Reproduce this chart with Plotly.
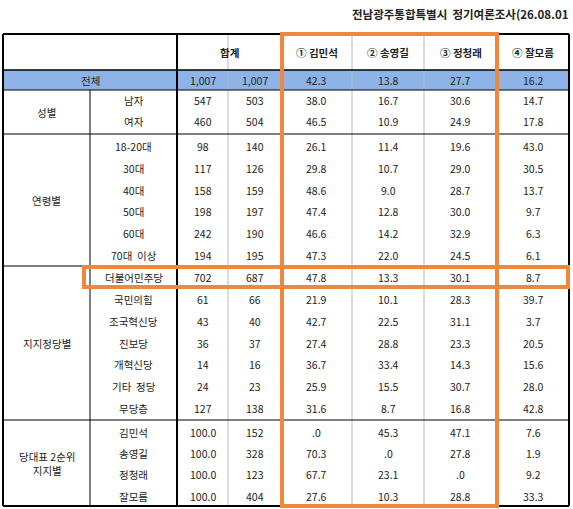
import plotly.graph_objects as go

title = "전남광주통합특별시  정기여론조사(26.08.01"
columns = ["① 김민석", "② 송영길", "③ 정청래", "④ 잘모름"]
groups = ["성별", "연령별", "지지정당별", "당대표 2순위<br>지지별"]
group_sizes = [2, 6, 7, 4]
subgroups = ["남자", "여자", "18-20대", "30대", "40대", "50대", "60대", "70대  이상",
             "더불어민주당", "국민의힘", "조국혁신당", "진보당", "개혁신당", "기타  정당", "무당층",
             "김민석", "송영길", "정청래", "잘모름"]
n_a = ["1,007", "547", "460", "98", "117", "158", "198", "242", "194",
       "702", "61", "43", "36", "14", "24", "127", "100.0", "100.0", "100.0", "100.0"]
n_b = ["1,007", "503", "504", "140", "126", "159", "197", "190", "195",
       "687", "66", "40", "37", "16", "23", "138", "152", "328", "123", "404"]
kim = ["42.3", "38.0", "46.5", "26.1", "29.8", "48.6", "47.4", "46.6", "47.3",
       "47.8", "21.9", "42.7", "27.4", "36.7", "25.9", "31.6", ".0", "70.3", "67.7", "27.6"]
song = ["13.8", "16.7", "10.9", "11.4", "10.7", "9.0", "12.8", "14.2", "22.0",
        "13.3", "10.1", "22.5", "28.8", "33.4", "15.5", "8.7", "45.3", ".0", "23.1", "10.3"]
jung = ["27.7", "30.6", "24.9", "19.6", "29.0", "28.7", "30.0", "32.9", "24.5",
        "30.1", "28.3", "31.1", "23.3", "14.3", "30.7", "16.8", "47.1", "27.8", ".0", "28.8"]
dunno = ["16.2", "14.7", "17.8", "43.0", "30.5", "13.7", "9.7", "6.3", "6.1",
         "8.7", "39.7", "3.7", "20.5", "15.6", "28.0", "42.8", "7.6", "1.9", "9.2", "33.3"]

# layout geometry (pixels)
L, R, TOP, BOT = 3, 569, 34, 506
cx = [3, 90, 177, 228, 281, 352, 424, 497, 569]
row_y = [80, 100, 121, 146, 168, 190, 211, 233, 255, 277, 299, 321, 343, 364, 386, 408, 432, 453, 474, 496]
group_bounds = [90, 134, 266, 420, 506]
FONT = "Noto Sans CJK KR"
ORANGE = "#F0873A"

shapes, ann = [], []
def line(x0, y0, x1, y1, color="black", w=1):
    shapes.append(dict(type="line", x0=x0, y0=y0, x1=x1, y1=y1, line=dict(color=color, width=w)))
def text(x, y, t, size=10.5, bold=False, xanchor="center"):
    ann.append(dict(x=x, y=y, text=f"<b>{t}</b>" if bold else t, showarrow=False,
                    xanchor=xanchor, yanchor="middle", font=dict(family=FONT, size=size, color="#222")))

shapes.append(dict(type="rect", x0=L, x1=R, y0=70, y1=90, fillcolor="#8DB3E8", line=dict(width=0), layer="below"))
for x in [228, 352, 424]:
    line(x, TOP, x, BOT, "#BBBBBB", 1)
line(L, TOP, R, TOP, "black", 2)
line(L, BOT, R, BOT, "black", 2)
line(L, TOP, L, BOT, "black", 2)
line(R, TOP, R, BOT, "black", 2)
line(L, 70, R, 70, "black", 1.5)
line(L, 90, R, 90, "black", 1)
for yb in group_bounds[1:-1]:
    line(L, yb, R, yb, "black", 1)
line(177, TOP, 177, BOT, "black", 2)
line(281, TOP, 281, BOT, "black", 2)
line(497, TOP, 497, BOT, "black", 2)
line(90, 90, 90, BOT, "black", 1)
shapes.append(dict(type="rect", x0=282, x1=497, y0=TOP, y1=BOT, line=dict(color=ORANGE, width=4)))
shapes.append(dict(type="rect", x0=84, x1=568, y0=267, y1=287, line=dict(color=ORANGE, width=4)))

text(571, 14, title, size=11.5, bold=True, xanchor="right")
text((177 + 281) / 2, 52, "합계", bold=True)
for i, c in enumerate(columns):
    text((cx[i + 4] + cx[i + 5]) / 2, 52, c, bold=True)
text((L + 177) / 2, row_y[0], "전체")

for g, (y0, y1) in zip(groups, zip(group_bounds[:-1], group_bounds[1:])):
    text((L + 90) / 2, (y0 + y1) / 2, g)
for i, s in enumerate(subgroups):
    text((90 + 177) / 2, row_y[i + 1], s)

cols = [n_a, n_b, kim, song, jung, dunno]
for j, col in enumerate(cols):
    xc = (cx[j + 2] + cx[j + 3]) / 2
    for i, v in enumerate(col):
        text(xc, row_y[i], v)

fig = go.Figure()
fig.update_layout(width=573, height=509, margin=dict(l=0, r=0, t=0, b=0),
                  plot_bgcolor="white", paper_bgcolor="white",
                  xaxis=dict(range=[0, 573], visible=False, fixedrange=True),
                  yaxis=dict(range=[509, 0], visible=False, fixedrange=True),
                  shapes=shapes, annotations=ann, showlegend=False)
fig.write_html("out.html", config={"displayModeBar": False},
               post_script="document.body.style.margin='0';document.body.style.overflow='hidden';")
